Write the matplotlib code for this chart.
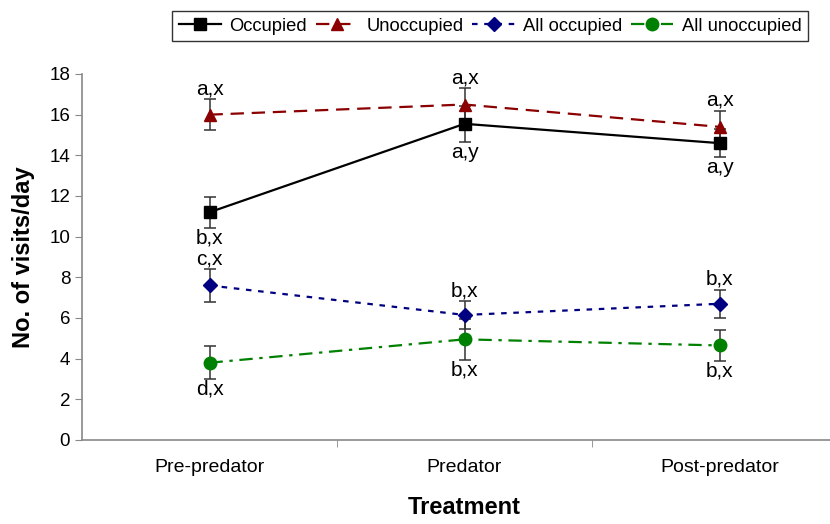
import matplotlib
matplotlib.use("Agg")
import matplotlib.pyplot as plt
import numpy as np

plt.rcParams['font.family'] = ['Liberation Sans', 'DejaVu Sans']

categories = ["Pre-predator", "Predator", "Post-predator"]
series_names = ["Occupied", "Unoccupied", "All occupied", "All unoccupied"]
occupied = [11.2, 15.55, 14.6]
occupied_err = [0.75, 0.9, 0.7]
unoccupied = [16.0, 16.5, 15.4]
unoccupied_err = [0.75, 0.8, 0.8]
all_occupied = [7.6, 6.15, 6.7]
all_occupied_err = [0.8, 0.7, 0.7]
all_unoccupied = [3.8, 4.95, 4.65]
all_unoccupied_err = [0.8, 1.0, 0.75]

occupied_labels = ["b,x", "a,y", "a,y"]
unoccupied_labels = ["a,x", "a,x", "a,x"]
all_occupied_labels = ["c,x", "b,x", "b,x"]
all_unoccupied_labels = ["d,x", "b,x", "b,x"]

fig = plt.figure(figsize=(8.3, 5.24), dpi=100)
ax = fig.add_axes([82/830, 84/524, 765/830, 366/524])

x = np.arange(len(categories))

styles = [
    (occupied, occupied_err, dict(color="black", ls="-", marker="s", ms=8)),
    (unoccupied, unoccupied_err, dict(color="#8B0000", ls=(0, (6, 3.5)), marker="^", ms=9)),
    (all_occupied, all_occupied_err, dict(color="#000080", ls=(0, (2.5, 3)), marker="D", ms=7)),
    (all_unoccupied, all_unoccupied_err, dict(color="#008000", ls=(0, (6, 3, 1.5, 3)), marker="o", ms=9)),
]

handles = []
for (vals, errs, st), name in zip(styles, series_names):
    ax.errorbar(x, vals, yerr=errs, fmt="none", ecolor="#333333", elinewidth=1.1,
                capsize=4, capthick=1.1, zorder=2)
    h, = ax.plot(x, vals, color=st["color"], ls=st["ls"], lw=1.6, marker=st["marker"],
                 ms=st["ms"], mfc=st["color"], mec=st["color"], label=name, zorder=3)
    handles.append(h)

def annotate(vals, errs, labels, above):
    for xi, v, e, lab in zip(x, vals, errs, labels):
        if above:
            ax.annotate(lab, (xi, v + e), xytext=(0, 0.5), textcoords="offset points",
                        ha="center", va="bottom", fontsize=15)
        else:
            ax.annotate(lab, (xi, v - e), xytext=(0, -0.5), textcoords="offset points",
                        ha="center", va="top", fontsize=15)

annotate(unoccupied, unoccupied_err, unoccupied_labels, True)
annotate(occupied, occupied_err, occupied_labels, False)
annotate(all_occupied, all_occupied_err, all_occupied_labels, True)
annotate(all_unoccupied, all_unoccupied_err, all_unoccupied_labels, False)

ax.set_xlim(-0.5, 2.5)
ax.set_ylim(0, 18)
ax.set_yticks(np.arange(0, 19, 2))
ax.set_xticks(x)
ax.set_xticklabels(categories, fontsize=14)
ax.set_xticks([0.5, 1.5], minor=True)
ax.tick_params(axis="x", which="major", length=0, pad=14)
ax.tick_params(axis="x", which="minor", length=5, color="#888888")
ax.tick_params(axis="y", length=5, color="#888888", labelsize=13.5, direction="out")
for s in ["top", "right"]:
    ax.spines[s].set_visible(False)
for s in ["left", "bottom"]:
    ax.spines[s].set_color("#888888")
    ax.spines[s].set_linewidth(1.2)

ax.set_ylabel("No. of visits/day", fontsize=17, fontweight="bold", labelpad=10)
ax.set_xlabel("Treatment", fontsize=17, fontweight="bold", labelpad=14)

leg = fig.legend(handles=handles, labels=series_names, ncol=4, loc="upper center",
                 bbox_to_anchor=(490/830, 1 - 2/524), fontsize=13.2, frameon=True,
                 fancybox=False, edgecolor="black", handlelength=2.3,
                 columnspacing=0.5, handletextpad=0.45, borderpad=0.35)
leg.get_frame().set_linewidth(1.0)

fig.savefig("out.png", dpi=100)
